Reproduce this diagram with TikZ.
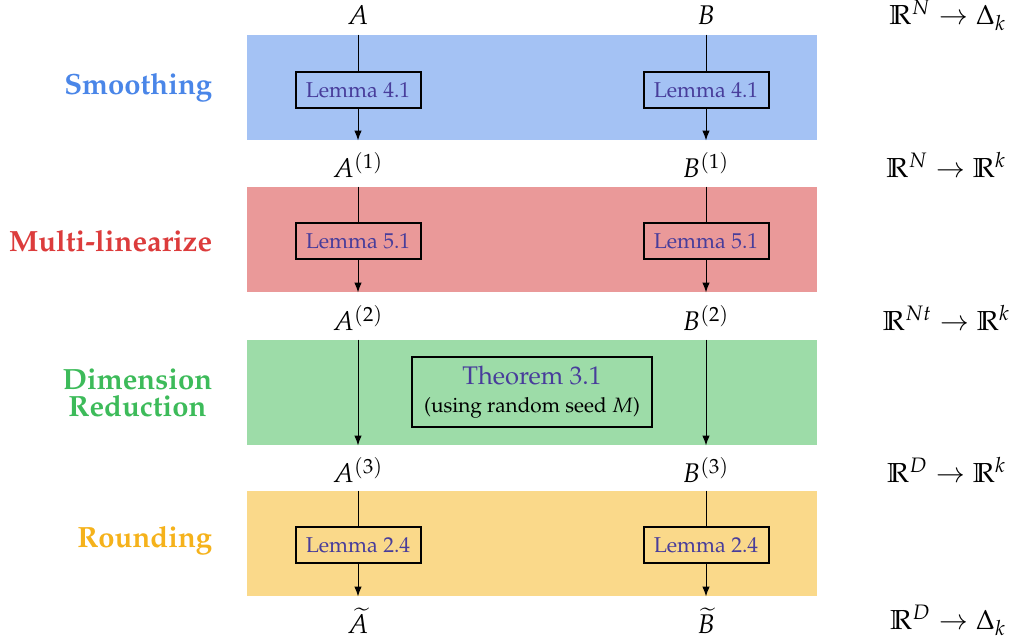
\documentclass[tikz,border=0pt]{standalone}
\usepackage[T1]{fontenc}
\usepackage{mathpazo}
\usepackage{amsmath, amssymb}
\usepackage{tikz}
\usetikzlibrary{arrows.meta, positioning}

\definecolor{smoothfill}{HTML}{A4C2F4}
\definecolor{smoothtext}{HTML}{4A86E8}
\definecolor{linfill}{HTML}{EA9999}
\definecolor{lintext}{HTML}{DC3C3C}
\definecolor{dimfill}{HTML}{9DDCA8}
\definecolor{dimtext}{HTML}{3DBB5A}
\definecolor{roundfill}{HTML}{FAD98A}
\definecolor{roundtext}{HTML}{F5B21B}
\definecolor{refcolor}{HTML}{483D9B}

\tikzset{
  band/.style={draw=none, minimum width=228pt, minimum height=42pt, inner sep=0pt},
  stage/.style={anchor=east, align=center, font=\fontsize{11.7}{11}\selectfont\bfseries},
  lemma/.style={draw, thick, inner sep=0pt, minimum width=50pt, minimum height=14.4pt,
    text=refcolor, font=\fontsize{8.6}{10}\selectfont},
  flow/.style={-{Latex[length=4pt, width=3pt]}},
  func/.style={font=\fontsize{10.8}{12}\selectfont},
  space/.style={anchor=east, font=\fontsize{11}{12}\selectfont},
}

\begin{document}
\begin{tikzpicture}[x=0.4pt, y=-0.4pt]
    \useasboundingbox (0,0) rectangle (1018,641);

    % Draw the four coloured bands
    \node[band, fill=smoothfill] (smooth) at (532,87.5) {};
    \node[band, fill=linfill] (lin) at (532,239.5) {};
    \node[band, fill=dimfill] (dim) at (532,392.5) {};
    \node[band, fill=roundfill] (round) at (532,543.5) {};

    % Stage names on the left
    \node[stage, text=smoothtext] (smoothlabel) at (221,88) {Smoothing};
    \node[stage, text=lintext] (linlabel) at (221,241) {Multi-linearize};
    \node[stage, text=dimtext] (dimlabel) at (221,393) {Dimension\\Reduction};
    \node[stage, text=roundtext] (roundlabel) at (221,541) {Rounding};

    % Define positions for the functions
    \node[func] (A0) at (358,15) {$A$};
    \node[func] (B0) at (706,15) {$B$};
    \node[func] (A1) at (358,165) {$A^{(1)}$};
    \node[func] (B1) at (706,165) {$B^{(1)}$};
    \node[func] (A2) at (358,318) {$A^{(2)}$};
    \node[func] (B2) at (706,318) {$B^{(2)}$};
    \node[func] (A3) at (358,470) {$A^{(3)}$};
    \node[func] (B3) at (706,470) {$B^{(3)}$};
    \node[func] (A4) at (358,621) {$\widetilde{A}$};
    \node[func] (B4) at (706,621) {$\widetilde{B}$};

    % Domains and ranges on the right
    \node[space] (S0) at (1015,15) {$\mathbb{R}^N \to \Delta_k$};
    \node[space] (S1) at (1015,165) {$\mathbb{R}^N \to \mathbb{R}^k$};
    \node[space] (S2) at (1019,318) {$\mathbb{R}^{Nt} \to \mathbb{R}^k$};
    \node[space] (S3) at (1015,470) {$\mathbb{R}^D \to \mathbb{R}^k$};
    \node[space] (S4) at (1015,620) {$\mathbb{R}^D \to \Delta_k$};

    % Arrows through each band
    \foreach \b in {smooth, lin, dim, round} {
      \draw[flow] (\b.north -| A0) -- (\b.south -| A0);
      \draw[flow] (\b.north -| B0) -- (\b.south -| B0);
    }

    % Boxes for the results used
    \node[lemma, fill=smoothfill] (LA1) at (358,90) {Lemma 4.1};
    \node[lemma, fill=smoothfill] (LB1) at (706,90) {Lemma 4.1};
    \node[lemma, fill=linfill] (LA2) at (358,241) {Lemma 5.1};
    \node[lemma, fill=linfill] (LB2) at (706,241) {Lemma 5.1};
    \node[lemma, fill=roundfill] (LA4) at (358,545) {Lemma 2.4};
    \node[lemma, fill=roundfill] (LB4) at (706,545) {Lemma 2.4};

    \node[draw, thick, fill=dimfill, align=center, minimum width=96pt, minimum height=28pt,
      inner sep=0pt] (thm) at (532,392)
      {{\color{refcolor}\fontsize{10.2}{11}\selectfont Theorem 3.1}\\[-1pt]
       {\fontsize{8.3}{10}\selectfont (using random seed $M$)}};

  \end{tikzpicture}
\end{document}
